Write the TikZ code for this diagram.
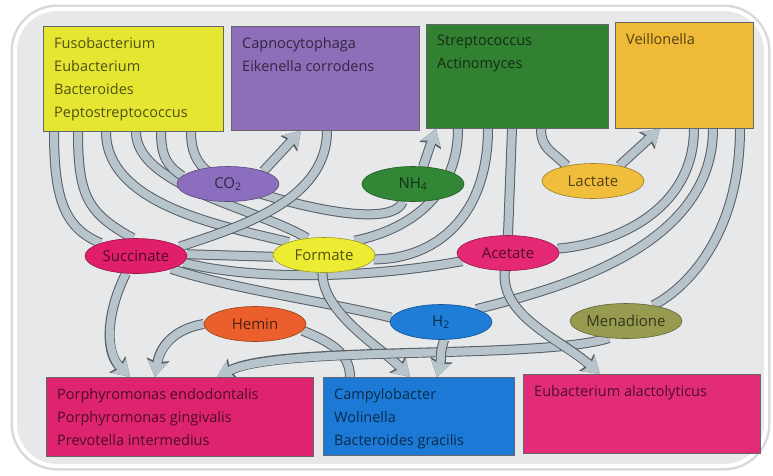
\documentclass[tikz,border=0pt]{standalone}
\usepackage{fontspec}
\setmainfont{Open Sans}
\usetikzlibrary{shapes.geometric, arrows.meta}
\definecolor{panelc}{RGB}{231,232,233}
\definecolor{bandfill}{RGB}{184,196,204}
\definecolor{bandedge}{RGB}{88,94,100}
\definecolor{fusoc}{RGB}{228,230,50}
\definecolor{capnoc}{RGB}{142,110,185}
\definecolor{strepc}{RGB}{50,128,50}
\definecolor{veilc}{RGB}{238,186,56}
\definecolor{porphc}{RGB}{222,36,110}
\definecolor{campyc}{RGB}{28,122,214}
\definecolor{eubacc}{RGB}{226,44,120}
\definecolor{co2c}{RGB}{140,110,190}
\definecolor{nh4c}{RGB}{50,135,55}
\definecolor{lactc}{RGB}{240,190,60}
\definecolor{succc}{RGB}{225,30,105}
\definecolor{formc}{RGB}{236,236,50}
\definecolor{acetc}{RGB}{228,40,115}
\definecolor{heminc}{RGB}{235,95,45}
\definecolor{h2c}{RGB}{30,125,215}
\definecolor{menac}{RGB}{150,155,80}
\pgfdeclarelayer{back}
\pgfsetlayers{back,main}
\begin{document}
\begin{tikzpicture}[x=1pt, y=-1pt,
  box/.style={draw=black!60, line width=0.6pt, fill=#1, anchor=north west, inner sep=0pt},
  boxtext/.style={anchor=north west, align=left, inner sep=11pt, text=#1!35!black, font=\fontsize{14.5}{23}\selectfont},
  chem/.style={ellipse, draw=#1!65!black, line width=0.6pt, fill=#1, text=#1!35!black, minimum width=102pt, minimum height=35pt, inner sep=0pt, font=\fontsize{15}{17}\selectfont},
  band/.style={draw=bandfill, line width=8pt, preaction={draw=bandedge, line width=10pt}},
  tip/.style={-{Stealth[length=8pt 1, width=10pt 1.3, inset=3pt, line width=0pt]}},
  panel/.style={fill=panelc, draw=white, line width=4pt, rounded corners=42pt, preaction={draw=black!15, line width=9pt}}]
\useasboundingbox (0,0) rectangle (773,475);
% the groups of bacteria
\node[box=fusoc, minimum width=180pt, minimum height=105pt,
  label={[boxtext=fusoc]north west:Fusobacterium\\Eubacterium\\Bacteroides\\Peptostreptococcus}] (fuso) at (43,26) {};
\node[box=capnoc, minimum width=188pt, minimum height=104pt,
  label={[boxtext=capnoc]north west:Capnocytophaga\\Eikenella corrodens}] (capno) at (231,26) {};
\node[box=strepc, minimum width=182pt, minimum height=104pt,
  label={[boxtext=strepc]north west:Streptococcus\\Actinomyces}] (strep) at (426,24) {};
\node[box=veilc, minimum width=138pt, minimum height=106pt,
  label={[boxtext=veilc]north west:Veillonella}] (veil) at (615,22) {};
\node[box=porphc, minimum width=267pt, minimum height=79pt,
  label={[boxtext=porphc]north west:Porphyromonas endodontalis\\Porphyromonas gingivalis\\Prevotella intermedius}] (porph) at (46,377) {};
\node[box=campyc, minimum width=191pt, minimum height=78pt,
  label={[boxtext=campyc]north west:Campylobacter\\Wolinella\\Bacteroides gracilis}] (campy) at (323,377) {};
\node[box=eubacc, minimum width=237pt, minimum height=79pt,
  label={[boxtext=eubacc]north west:Eubacterium alactolyticus}] (eubac) at (523,374) {};
% the metabolites
\node[chem=co2c] (co2) at (228,184) {CO\textsubscript{2}};
\node[chem=nh4c] (nh4) at (413,184) {NH\textsubscript{4}};
\node[chem=lactc] (lact) at (593,181) {Lactate};
\node[chem=succc] (succ) at (136,256) {Succinate};
\node[chem=formc] (form) at (324,255) {Formate};
\node[chem=acetc] (acet) at (508,253) {Acetate};
\node[chem=heminc] (hemin) at (255,324) {Hemin};
\node[chem=h2c] (h2) at (441,322) {H\textsubscript{2}};
\node[chem=menac] (mena) at (626,321) {Menadione};
\begin{pgfonlayer}{back}
\draw[panel] (15,9) rectangle (766,466);
% out of the top row
\draw[band] ([xshift=11pt]fuso.south west) .. controls +(0,70) and +(-35,-15) .. (succ.160);
\draw[band] ([xshift=35pt]fuso.south west) .. controls +(0,65) and +(-45,-25) .. (succ.100);
\draw[band] ([xshift=63pt]fuso.south west) .. controls +(0,75) and +(-60,-15) .. (form.160);
\draw[band] ([xshift=93pt]fuso.south west) .. controls +(0,55) and +(-50,-30) .. (form.135);
\draw[band] ([xshift=118pt]fuso.south west) .. controls +(0,25) and +(-15,-10) .. (co2.170);
\draw[band] ([xshift=148pt]fuso.south west) .. controls +(0,40) and +(-50,-15) .. (265,195) .. controls +(50,15) and +(-10,25) .. (nh4.240);
\draw[band, tip] (co2.20) -- ([xshift=70pt]capno.south west);
\draw[band] ([xshift=96pt]capno.south west) .. controls +(0,70) and +(60,-20) .. (succ.12);
\draw[band, tip] (nh4.60) -- ([xshift=10pt]strep.south west);
\draw[band] ([xshift=32pt]strep.south west) .. controls +(0,70) and +(50,-10) .. (form.25);
\draw[band] ([xshift=62pt]strep.south west) .. controls +(0,90) and +(60,0) .. (form.-5);
\draw[band] ([xshift=86pt]strep.south west) -- (acet.north);
\draw[band] ([xshift=115pt]strep.south west) .. controls +(0,20) and +(-15,-15) .. (lact.150);
\draw[band, tip] (lact.30) -- ([xshift=45pt]veil.south west);
\draw[band] ([xshift=79pt]veil.south west) .. controls +(0,80) and +(60,-5) .. (acet.5);
\draw[band] ([xshift=98pt]veil.south west) .. controls +(0,120) and +(80,-20) .. (h2.20);
\draw[band] ([xshift=125pt]veil.south west) .. controls +(0,110) and +(30,-15) .. (mena.30);
% across the middle
\draw[band] (succ.2) -- (form.182);
\draw[band] (succ.-8) .. controls +(80,20) and +(-80,15) .. (acet.190);
\draw[band] (succ.-20) .. controls +(60,20) and +(-60,-15) .. (h2.175);
% into the bottom row
\draw[band, tip] (succ.240) .. controls +(-20,40) and +(-25,-25) .. ([xshift=84pt]porph.north west);
\draw[band, tip] (hemin.180) .. controls +(-30,5) and +(5,-30) .. ([xshift=109pt]porph.north west);
\draw[band] ([xshift=27pt]campy.north west) .. controls +(0,-25) and +(25,10) .. (hemin.-8);
\draw[band, tip] (form.265) .. controls +(0,40) and +(-30,-30) .. ([xshift=87pt]campy.north west);
\draw[band, tip] (mena.225) .. controls +(-69,22) and +(63,-32) .. ([xshift=171pt]porph.north west);
\draw[band, tip] (h2.-80) .. controls +(-5,15) and +(5,-20) .. ([xshift=114pt]campy.north west);
\draw[band, tip] (acet.260) .. controls +(-5,45) and +(-40,-35) .. ([xshift=77pt]eubac.north west);
\end{pgfonlayer}
\end{tikzpicture}
\end{document}
